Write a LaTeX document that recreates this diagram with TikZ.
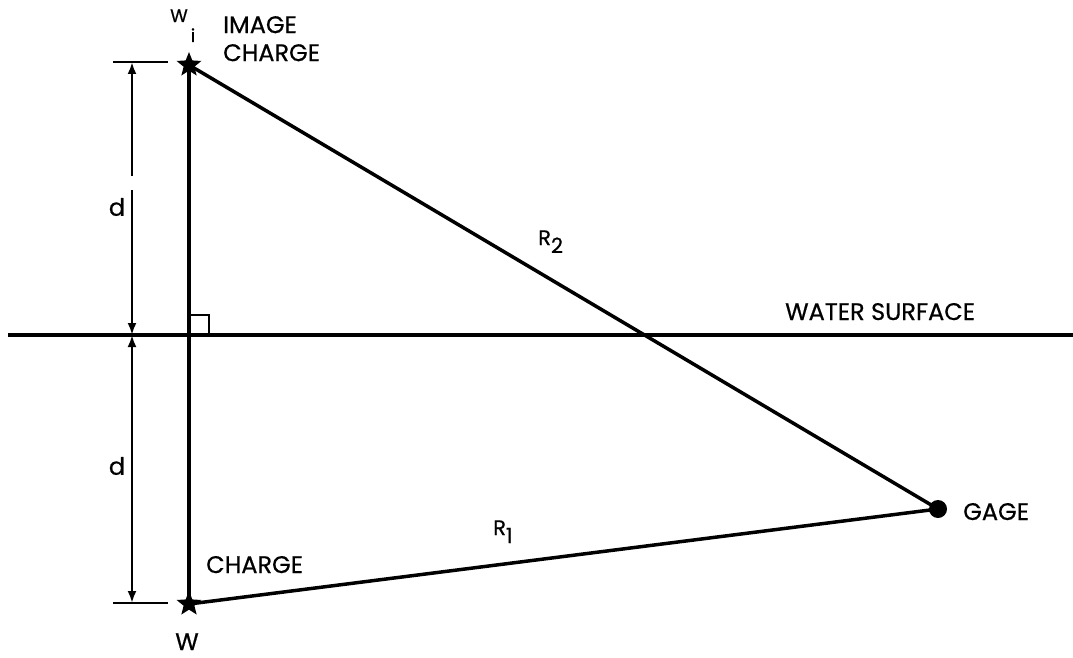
\documentclass[tikz,border=0pt]{standalone}
\usepackage{fontspec}
\setmainfont{Poppins}[FakeBold=0.6]
\usetikzlibrary{shapes.geometric,arrows.meta}
\begin{document}
\begin{tikzpicture}[x=1pt,y=-1pt,
  heavy/.style={line width=3.5pt},
  dimline/.style={line width=2.5pt},
  dimarrow/.style={dimline,-{Latex[length=12pt,width=9pt]}},
  starmark/.style={star,star points=5,star point ratio=2.3,fill=black,inner sep=0pt,minimum size=26pt},
  lbl/.style={font=\fontsize{24}{28}\selectfont,inner sep=0pt},
  slbl/.style={font=\fontsize{21}{24}\selectfont,inner sep=0pt},
  wlbl/.style={font=\fontsize{18}{21}\selectfont,inner sep=0pt}]
\useasboundingbox (0,0) rectangle (1073,658);
% points
\node[starmark] (wi) at (189,65) {};
\node[starmark] (w) at (189,604) {};
\node[circle,fill=black,minimum size=18pt,inner sep=0pt] (gage) at (938,509) {};
\coordinate (sl) at (8,335);
\coordinate (sr) at (1073,335);
% main lines
\draw[heavy] (sl) -- (sr);
\draw[heavy] (wi.center) -- (w.center);
\draw[heavy] (wi.center) -- (gage.center);
\draw[heavy] (w.center) -- (gage.center);
% right angle
\draw[line width=2.5pt] (189,315) -- (209,315) -- (209,335);
% dimension
\coordinate (tt1) at (113,62);
\coordinate (tt2) at (168,62);
\coordinate (bt1) at (113,603);
\coordinate (bt2) at (168,603);
\coordinate (dtop) at (132,62);
\coordinate (dmid) at (132,335);
\coordinate (dbot) at (132,603);
\draw[dimline] (tt1) -- (tt2);
\draw[dimline] (bt1) -- (bt2);
\draw[dimarrow] (132,176) -- (dtop);
\draw[dimarrow] (132,190) -- (dmid);
\draw[dimarrow] (132,470) -- (dmid);
\draw[dimarrow] (132,470) -- (dbot);
% labels
\node[lbl] (d1) at (117,207) {d};
\node[lbl] (d2) at (117,466) {d};
\node[wlbl,anchor=base west] (wil) at (170,22) {W\kern3pt\raisebox{-20pt}{i}};
\node[lbl,align=left,anchor=north west] (ic) at (223,16) {IMAGE\\CHARGE};
\node[lbl,anchor=base west] (ch) at (206,573) {CHARGE};
\node[lbl,anchor=base] (wl) at (187,650) {W};
\node[lbl,anchor=base west] (gl) at (963,520) {GAGE};
\node[lbl,anchor=base west] (ws) at (785,320) {WATER SURFACE};
\node[slbl,anchor=base west] (r2) at (538,245) {R\raisebox{-8pt}{2}};
\node[slbl,anchor=base west] (r1) at (493,535) {R\raisebox{-8pt}{1}};
\end{tikzpicture}
\end{document}
